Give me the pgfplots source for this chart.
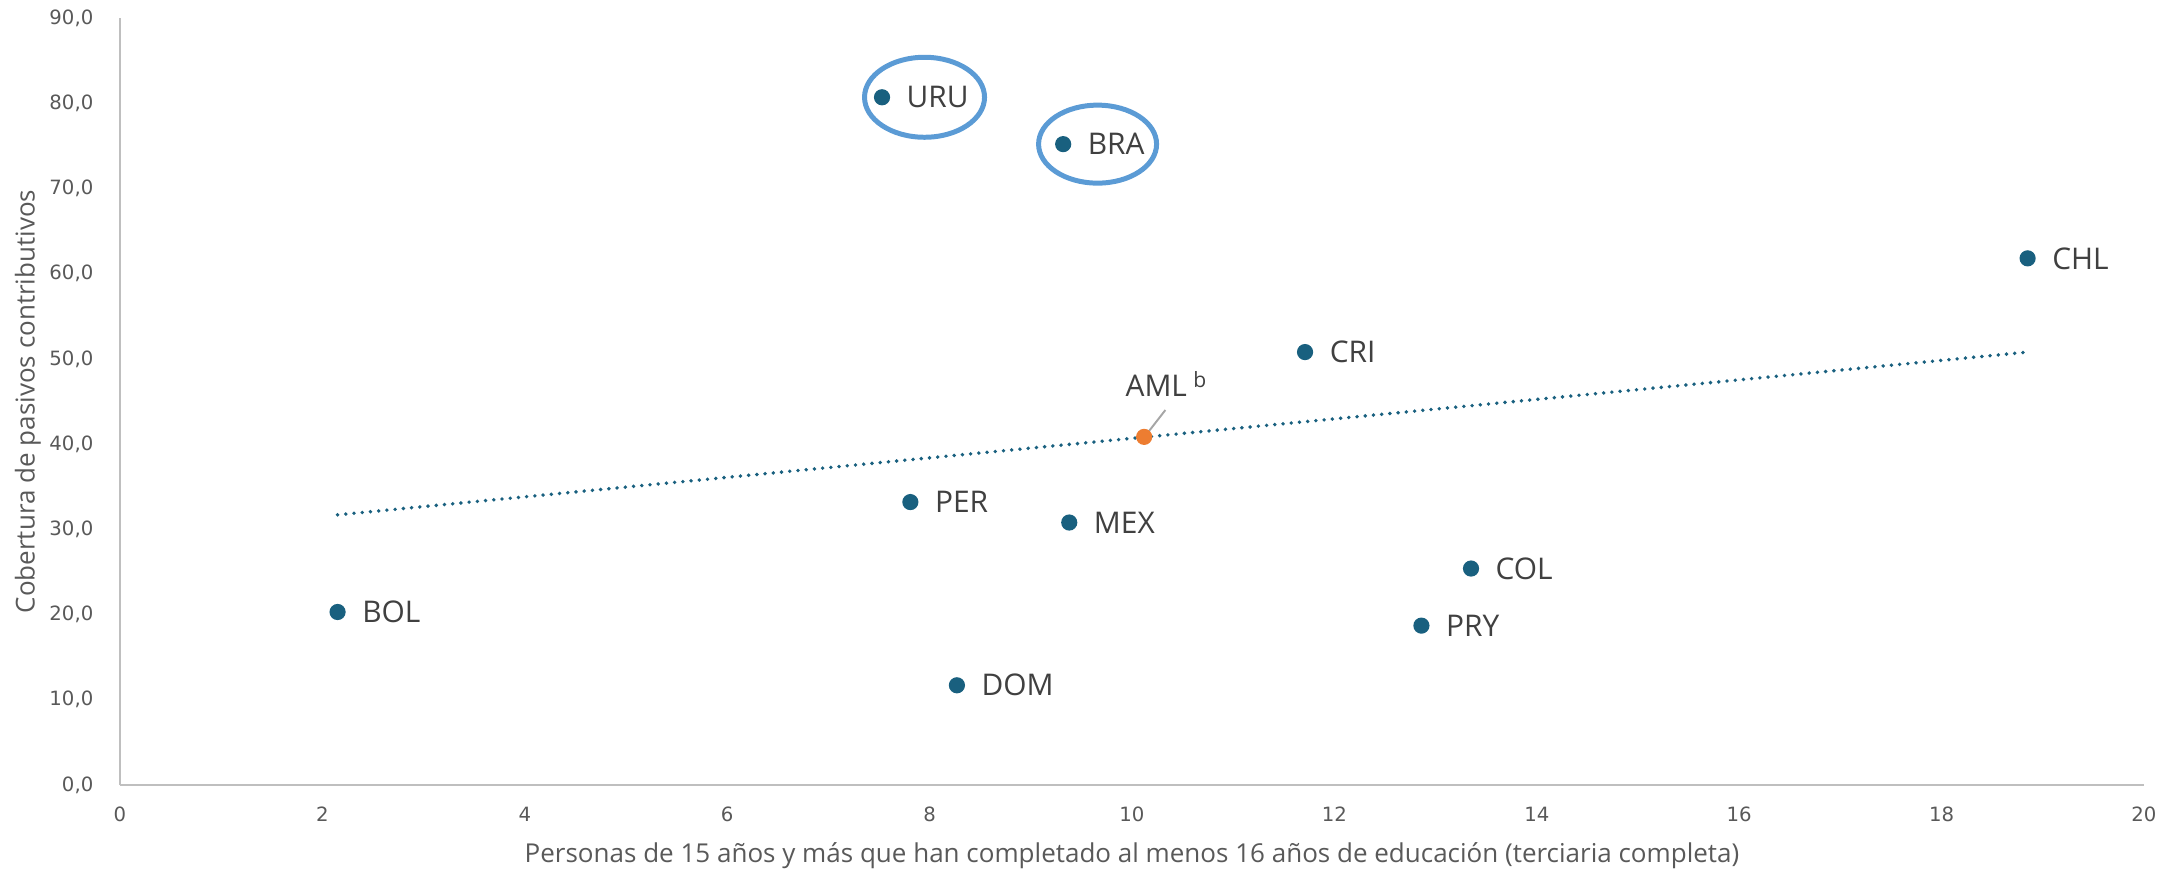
\documentclass[border=0pt]{standalone}
\usepackage{pgfplots}
\pgfplotsset{compat=1.18}
\usepackage{pgfplotstable}
\usepackage{fontspec}
\setmainfont{Open Sans}
\newfontfamily\tickfont{DejaVu Sans}
\definecolor{dotblue}{HTML}{19607F}
\definecolor{amlorange}{HTML}{ED7D31}
\definecolor{ringblue}{HTML}{5B9BD5}
\definecolor{axisgray}{HTML}{BFBFBF}
\definecolor{ticktext}{HTML}{595959}
\definecolor{labtext}{HTML}{404040}

\pgfplotstableread{
x y lab
7.53 80.7 URU
9.32 75.2 BRA
18.85 61.8 CHL
11.71 50.8 CRI
7.81 33.2 PER
9.38 30.8 MEX
13.35 25.4 COL
12.86 18.7 PRY
2.15 20.3 BOL
8.27 11.7 DOM
}\datatable

\pgfplotstableread{
x y
10.12 40.85
}\amltable

\pgfplotstableread{
x y
2.15 31.7
18.85 50.8
}\trendtable

\begin{document}
\begin{tikzpicture}
\begin{axis}[
  scale only axis,
  width=20.24cm, height=7.67cm,
  xmin=0, xmax=20, ymin=0, ymax=90,
  xtick={0,2,...,20}, ytick={0,10,...,90},
  axis x line=bottom, axis y line=left,
  axis line style={-, draw=axisgray, line width=0.6pt},
  major tick length=0pt,
  clip=false,
  /pgf/number format/assume math mode=true,
  ticklabel style={font=\tickfont\fontsize{5.6}{6}\selectfont, text=ticktext, inner sep=0pt},
  xticklabel style={anchor=north, yshift=-2.15mm},
  yticklabel style={/pgf/number format/fixed, /pgf/number format/fixed zerofill, /pgf/number format/precision=1, /pgf/number format/use comma, anchor=east, xshift=-2.6mm},
  xlabel={Personas de 15 años y más que han completado al menos 16 años de educación (terciaria completa)},
  ylabel={Cobertura de pasivos contributivos},
  xlabel style={at={(axis description cs:0.5,-0.0926)}, anchor=center, font=\fontsize{7.4}{8}\selectfont, text=ticktext},
  ylabel style={at={(axis description cs:-0.0455,0.5)}, anchor=center, font=\fontsize{7.4}{8}\selectfont, text=ticktext},
]
\addplot[only marks, mark=*, mark size=2.1pt, color=dotblue,
  nodes near coords, point meta=explicit symbolic,
  every node near coord/.style={anchor=west, inner sep=0pt, xshift=2.4mm, font=\fontsize{8.5}{9}\selectfont, text=labtext}]
  table[x=x, y=y, meta=lab]{\datatable};
\addplot[only marks, mark=*, mark size=2.1pt, color=amlorange] table[x=x, y=y]{\amltable};
\addplot[dotblue, line width=1.1pt, line cap=round, dash pattern=on 0pt off 2.35pt] table[x=x, y=y]{\trendtable};
\draw[color=gray!70, line width=0.55pt] (axis cs:10.14,41.1) -- (axis cs:10.33,44.0);
\node[font=\fontsize{8.5}{9}\selectfont, text=labtext, inner sep=0pt] at (axis cs:10.24,46.8) {AML};
\node[font=\fontsize{6}{7}\selectfont, text=labtext, inner sep=0pt, anchor=base west] at (axis cs:10.6,46.6) {b};
\draw[ringblue, line width=1.42pt] (axis cs:7.95,80.7) ellipse [x radius=0.6cm, y radius=0.4cm];
\draw[ringblue, line width=1.42pt] (axis cs:9.66,75.2) ellipse [x radius=0.59cm, y radius=0.39cm];
\end{axis}
\pgfresetboundingbox
\path (-1.2cm,-0.83cm) rectangle (20.55cm,7.85cm);
\end{tikzpicture}
\end{document}
